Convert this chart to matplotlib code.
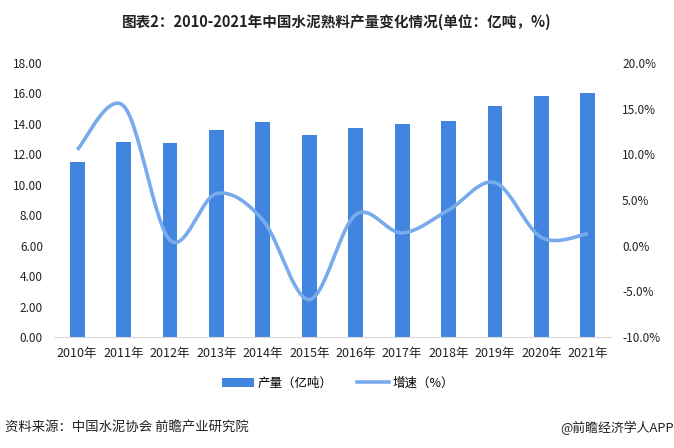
import numpy as np
import matplotlib
matplotlib.use("Agg")
import matplotlib.pyplot as plt
from matplotlib.lines import Line2D
from matplotlib.patches import Patch

plt.rcParams['font.family'] = ['Noto Sans CJK SC', 'DejaVu Sans']

years = ['2010年', '2011年', '2012年', '2013年', '2014年', '2015年',
         '2016年', '2017年', '2018年', '2019年', '2020年', '2021年']
output = [11.5, 12.8, 12.75, 13.6, 14.1, 13.3, 13.7, 14.0, 14.2, 15.2, 15.8, 16.0]
growth = [10.5, 15.3, 0.6, 5.7, 2.8, -5.9, 3.4, 1.4, 3.9, 6.9, 0.9, 1.3]
left_ticks = [0, 2, 4, 6, 8, 10, 12, 14, 16, 18]
right_ticks = [-10, -5, 0, 5, 10, 15, 20]

bar_color = '#4285E0'
line_color = '#78ABEC'

W, H = 674, 448
fig = plt.figure(figsize=(W / 100, H / 100), dpi=100)
ax = fig.add_axes([54 / W, 1 - 337 / H, (611 - 54) / W, (337 - 63) / H])
ax2 = ax.twinx()

x = np.arange(len(years))
ax.bar(x, output, width=0.32, color=bar_color, zorder=2)
ax.set_xlim(-0.5, len(years) - 0.5)
ax.set_ylim(0, 18)
ax.set_yticks(left_ticks)
ax.set_yticklabels([f'{v:.2f}' for v in left_ticks])
ax.set_xticks(x)
ax.set_xticklabels(years)


def smooth(xs, ys, n=30):
    xs = np.asarray(xs, float)
    ys = np.asarray(ys, float)
    P = np.column_stack([xs, ys])
    Pext = np.vstack([P[0], P, P[-1]])
    out = []
    for i in range(len(P) - 1):
        p0, p1, p2, p3 = Pext[i], Pext[i + 1], Pext[i + 2], Pext[i + 3]
        b1 = p1 + (p2 - p0) / 6
        b2 = p2 - (p3 - p1) / 6
        t = np.linspace(0, 1, n)[:, None]
        seg = (1 - t) ** 3 * p1 + 3 * (1 - t) ** 2 * t * b1 + 3 * (1 - t) * t ** 2 * b2 + t ** 3 * p2
        out.append(seg if i == 0 else seg[1:])
    c = np.vstack(out)
    return c[:, 0], c[:, 1]


sx, sy = smooth(x, growth)
ax2.plot(sx, sy, color=line_color, lw=2.6, solid_capstyle='butt', zorder=3)
ax2.set_ylim(-10, 20)
ax2.set_yticks(right_ticks)
ax2.set_yticklabels([f'{v:.1f}%' for v in right_ticks])

for a in (ax, ax2):
    for s in a.spines.values():
        s.set_visible(False)
    a.tick_params(length=0, labelsize=8.5, colors='#222222')
ax.spines['bottom'].set_visible(True)
ax.spines['bottom'].set_color('#D9D9D9')
ax.tick_params(axis='y', pad=8)
ax2.tick_params(axis='y', pad=8)
ax.tick_params(axis='x', pad=7, labelsize=9)

fig.text(0.5, 1 - 22 / H, '图表2：2010-2021年中国水泥熟料产量变化情况(单位：亿吨，%)',
         ha='center', va='center', fontsize=10.5, fontweight='bold', color='#222222')

handles = [Patch(facecolor=bar_color, edgecolor='none'),
           Line2D([0], [0], color=line_color, lw=2.6)]
fig.legend(handles, ['产量（亿吨）', '增速（%）'], loc='center',
           bbox_to_anchor=(338 / W, 1 - 383 / H), ncol=2, frameon=False,
           fontsize=9, handlelength=2.5, handleheight=0.7, columnspacing=2.0,
           handletextpad=0.3)

fig.text(5 / W, 1 - 428 / H, '资料来源：中国水泥协会 前瞻产业研究院', ha='left', va='center',
         fontsize=9.6, color='#222222')
fig.text(1.0, 1 - 428 / H, '@前瞻经济学人APP', ha='right', va='center',
         fontsize=9.3, color='#222222')

fig.savefig('out.png', dpi=100)
